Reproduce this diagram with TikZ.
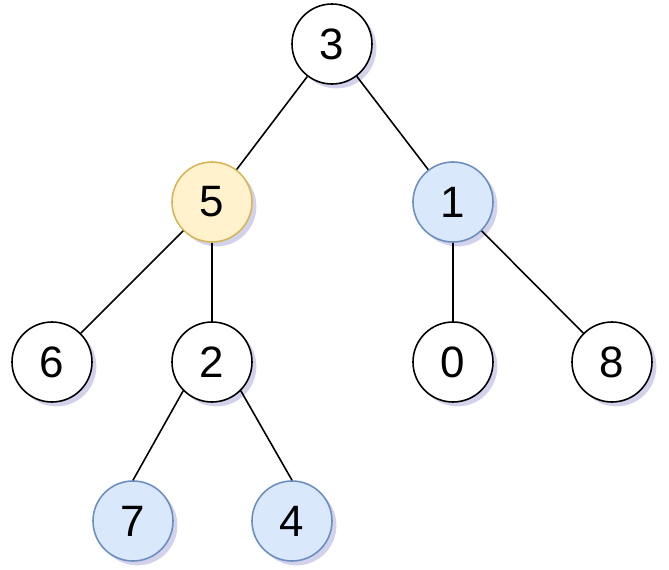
\documentclass[tikz,border=0pt]{standalone}
\usepackage{fontspec}
\setmainfont{Liberation Sans}
\usetikzlibrary{shadows}
\definecolor{yelfill}{HTML}{FFF2CC}
\definecolor{yeldraw}{HTML}{D6B656}
\definecolor{bluefill}{HTML}{DAE8FC}
\definecolor{bluedraw}{HTML}{6C8EBF}

\begin{document}
\begin{tikzpicture}
  \tikzstyle{nd}=[circle,draw=black,line width=0.9pt,fill=white,minimum size=1.6cm,inner sep=0pt,
    font=\fontsize{25}{30}\selectfont,
    drop shadow={shadow xshift=2.5pt,shadow yshift=-2.5pt,opacity=0.25,fill=blue!40!gray}]
  \tikzstyle{hl}=[nd,draw=yeldraw,fill=yelfill]
  \tikzstyle{sel}=[nd,draw=bluedraw,fill=bluefill]
  \tikzstyle{e}=[line width=0.9pt,black]
  \useasboundingbox (0,0) rectangle (13.38,-11.4);

  \node[nd] (n3) at (6.64,-0.88) {3};
  \node[hl] (n5) at (4.24,-4.04) {5};
  \node[sel] (n1) at (9.06,-4.04) {1};
  \node[nd] (n6) at (1.04,-7.24) {6};
  \node[nd] (n2) at (4.24,-7.24) {2};
  \node[nd] (n0) at (9.06,-7.24) {0};
  \node[nd] (n8) at (12.24,-7.24) {8};
  \node[sel] (n7) at (2.66,-10.42) {7};
  \node[sel] (n4) at (5.84,-10.42) {4};

  \draw[e] (n3) -- (n5);
  \draw[e] (n3) -- (n1);
  \draw[e] (n5) -- (n6);
  \draw[e] (n5) -- (n2);
  \draw[e] (n1) -- (n0);
  \draw[e] (n1) -- (n8);
  \draw[e] (n2.225) -- (n7.north);
  \draw[e] (n2.-45) -- (n4.north);
\end{tikzpicture}
\end{document}
